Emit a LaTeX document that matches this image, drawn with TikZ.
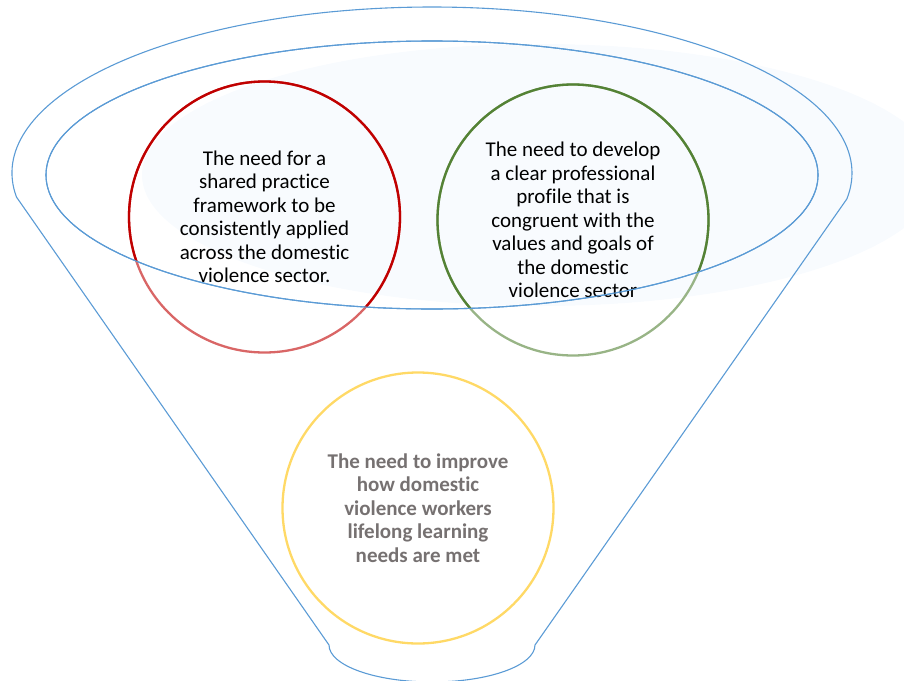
\documentclass[tikz,border=0pt]{standalone}
\usepackage{fontspec}
\setmainfont{Carlito}[Ligatures=NoCommon]
\definecolor{funnelblue}{RGB}{91,155,213}
\definecolor{glowblue}{RGB}{248,251,254}
\definecolor{ringred}{RGB}{192,0,0}
\definecolor{ringgreen}{RGB}{84,130,53}
\definecolor{ringyellow}{RGB}{255,217,102}
\definecolor{softgray}{RGB}{118,113,113}
\tikzset{
  funnelline/.style={draw=funnelblue, line width=1.1pt},
  ring/.style={circle, minimum size=271pt, inner sep=0pt, line width=2.3pt,
    align=center, font=\fontsize{21}{23.5}\selectfont},
}
\begin{document}
\begin{tikzpicture}[x=1pt, y=-1pt]
  \useasboundingbox (0,0) rectangle (904,680);

  % faint haze behind the rim
  \begin{scope}
    \clip (0,0) rectangle (904,680);
    \fill[glowblue] (540,175) ellipse [x radius=398, y radius=131];
  \end{scope}

  % funnel body: outer rim, straight sides and rounded spout
  \draw[funnelline]
    (432,173) ++(171.7:420 and 166)
    arc[start angle=171.7, end angle=369, x radius=420, y radius=166]
    -- (535,645)
    arc[start angle=0, end angle=180, x radius=103, y radius=37]
    -- cycle;

  % inner rim
  \draw[funnelline] (432,175) ellipse [x radius=386, y radius=134];

  % the three needs (softer outline outside the rim)
  \node[ring, draw=ringred!60!white] (framework) at (264.5,217)
    {The need for a\\shared practice\\framework to be\\consistently applied\\across the domestic\\violence sector.};
  \node[ring, draw=ringgreen!60!white] (profile) at (573,220)
    {The need to develop\\a clear professional\\profile that is\\congruent with the\\values and goals of\\the domestic\\violence sector};
  \node[ring, draw=ringyellow, text=softgray,
        font=\fontsize{21}{23.5}\selectfont\bfseries] (learning) at (418,508)
    {The need to improve\\how domestic\\violence workers\\lifelong learning\\needs are met};

  % stronger outline where the rings sit inside the rim
  \begin{scope}
    \clip (432,175) ellipse [x radius=386, y radius=134];
    \draw[ringred, line width=2.3pt] (framework.center) circle (135.5);
    \draw[ringgreen, line width=2.3pt] (profile.center) circle (135.5);
  \end{scope}

  % rim line drawn over the rings
  \draw[funnelline] (432,175) ellipse [x radius=386, y radius=134];
\end{tikzpicture}
\end{document}
